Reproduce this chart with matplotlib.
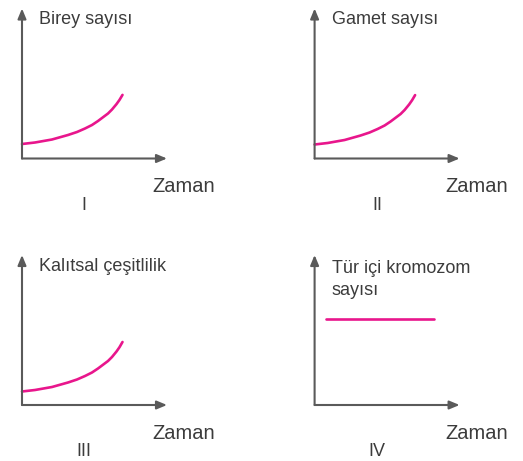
import matplotlib.pyplot as plt

plt.rcParams['font.family'] = ['Liberation Sans', 'DejaVu Sans']

# veri: zaman ve değerler (resimden okuma)
zaman = [0, 0.13, 0.3, 0.46, 0.55, 0.63, 0.7, 0.76, 0.86, 0.9, 0.945, 0.975, 1.005]
birey = [0.145, 0.16, 0.19, 0.235, 0.265, 0.30, 0.335, 0.375, 0.45, 0.49, 0.544, 0.586, 0.636]
gamet = [0.14, 0.155, 0.185, 0.23, 0.26, 0.295, 0.33, 0.37, 0.445, 0.485, 0.54, 0.583, 0.634]
cesitlilik = [0.135, 0.15, 0.18, 0.225, 0.255, 0.29, 0.325, 0.365, 0.44, 0.48, 0.535, 0.578, 0.63]
zaman_kromozom = [0.11, 1.19]
kromozom = [0.86, 0.86]

ylabels = ['Birey sayısı', 'Gamet sayısı', 'Kalıtsal çeşitlilik', 'Tür içi kromozom\nsayısı']
numerals = ['I', 'II', 'III', 'IV']

W, H = 523, 461
axis_color = '#5a5a5a'
text_color = '#3c3c3c'
curve_color = '#e8168c'

fig = plt.figure(figsize=(W / 100, H / 100), dpi=100)

# panel yerleri (piksel): eksen başlangıcı
origins = [(22, 158.5), (314.6, 158.5), (22, 405), (314.6, 405)]
series = [(zaman, birey), (zaman, gamet), (zaman, cesitlilik), (zaman_kromozom, kromozom)]

for i, ((ox, oy), (xs, ys)) in enumerate(zip(origins, series)):
    ax = fig.add_axes([ox / W, (H - oy) / H, 145 / W, 150 / H])
    ax.set_xlim(0, 1.45)
    ax.set_ylim(0, 1.5)
    ax.axis('off')

    # eksen okları
    arrow = dict(arrowstyle='-|>,head_length=0.6,head_width=0.25', color=axis_color,
                 lw=1.5, shrinkA=0, shrinkB=0)
    ax.annotate('', xy=(1, 0), xytext=(0, 0), xycoords='axes fraction', arrowprops=arrow)
    ax.annotate('', xy=(0, 1), xytext=(0, 0), xycoords='axes fraction', arrowprops=arrow)

    ax.plot(xs, ys, color=curve_color, lw=1.9, solid_capstyle='round',
            solid_joinstyle='round', clip_on=False)

    if i < 3:
        ax.text(0.117, 0.925, ylabels[i], transform=ax.transAxes, fontsize=13,
                color=text_color, ha='left', va='center')
    else:
        ax.text(0.12, 0.835, ylabels[i], transform=ax.transAxes, fontsize=13,
                color=text_color, ha='left', va='center', linespacing=1.4)

    ax.text(0.9, -0.19, 'Zaman', transform=ax.transAxes, fontsize=14.5,
            color=text_color, ha='left', va='center')
    ax.text(0.43, -0.31, numerals[i], transform=ax.transAxes, fontsize=13,
            color=text_color, ha='center', va='center')

fig.savefig('out.png', dpi=100, facecolor='white')
